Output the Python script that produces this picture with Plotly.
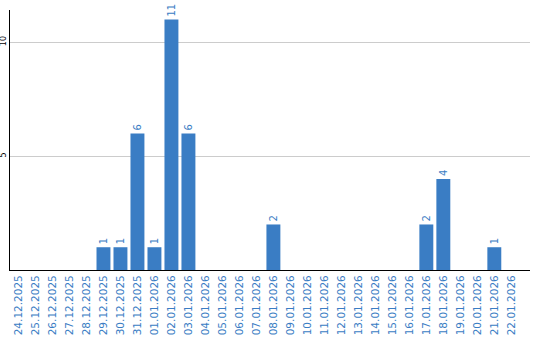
import plotly.graph_objects as go

dates = ["24.12.2025","25.12.2025","26.12.2025","27.12.2025","28.12.2025","29.12.2025",
         "30.12.2025","31.12.2025","01.01.2026","02.01.2026","03.01.2026","04.01.2026",
         "05.01.2026","06.01.2026","07.01.2026","08.01.2026","09.01.2026","10.01.2026",
         "11.01.2026","12.01.2026","13.01.2026","14.01.2026","15.01.2026","16.01.2026",
         "17.01.2026","18.01.2026","19.01.2026","20.01.2026","21.01.2026","22.01.2026"]
values = [0,0,0,0,0,1,1,6,1,11,6,0,0,0,0,2,0,0,0,0,0,0,0,0,2,4,0,0,1,0]
labels = [str(v) if v else "" for v in values]
ytick_vals = [5, 10]

blue = "#3a7dc4"
fig = go.Figure(go.Bar(
    x=list(range(len(dates))), y=values, text=labels,
    textposition="outside", textangle=-90, cliponaxis=False,
    textfont=dict(family="DejaVu Sans", size=10, color=blue),
    marker=dict(color=blue, line=dict(width=0)),
))
fig.update_layout(
    width=540, height=340,
    margin=dict(l=10, r=10, t=10, b=70),
    plot_bgcolor="white", paper_bgcolor="white",
    bargap=0.18, showlegend=False,
    font=dict(family="DejaVu Sans"),
)
fig.update_xaxes(
    range=[-0.5, 30.1], tickmode="array", tickvals=list(range(len(dates))), ticktext=dates,
    tickangle=-90, tickfont=dict(family="DejaVu Sans", size=10.5, color=blue),
    showline=True, linecolor="black", linewidth=1, showgrid=False, ticks="",
    automargin=False, zeroline=False,
)
fig.update_yaxes(
    range=[0, 11.42], tickmode="array", tickvals=ytick_vals, ticktext=[str(v) for v in ytick_vals],
    tickangle=-90, tickfont=dict(family="DejaVu Sans", size=8, color="black"),
    showline=True, linecolor="black", linewidth=1, showgrid=True, gridcolor="#cccccc",
    ticks="", ticklen=0, automargin=False, zeroline=False,
)
fig.write_html("out.html")
